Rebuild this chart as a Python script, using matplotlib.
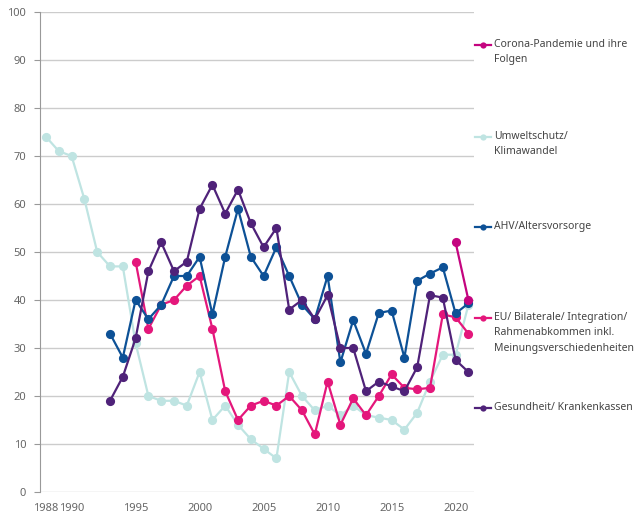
import numpy as np
import matplotlib.pyplot as plt
from matplotlib.lines import Line2D

plt.rcParams['font.family'] = ['Noto Sans', 'DejaVu Sans']

years_umwelt = list(range(1988, 2022))
umwelt = [74, 71, 70, 61, 50, 47, 47, 31, 20, 19, 19, 18, 25, 15, 18, 14, 11, 9, 7,
          25, 20, 17, 18, 16, 18, 16, 15.5, 15, 13, 16.5, 23, 28.6, 28.6, 39]

years_ahv = list(range(1993, 2022))
ahv = [33, 28, 40, 36, 39, 45, 45, 49, 37, 49, 59, 49, 45, 51, 45, 39, 36, 45, 27,
       35.8, 28.8, 37.3, 37.8, 28, 44, 45.5, 46.8, 37.2, 39.3]

years_ges = list(range(1993, 2022))
gesundheit = [19, 24, 32, 46, 52, 46, 48, 59, 64, 58, 63, 56, 51, 55, 38, 40, 36, 41,
              30, 30, 21, 23, 22, 21, 26, 41, 40.5, 27.5, 25]

years_eu = list(range(1995, 2022))
eu = [48, 34, 39, 40, 43, 45, 34, 21, 15, 18, 19, 18, 20, 17, 12, 23, 14, 19.5, 16,
      20, 24.5, 21.7, 21.4, 21.7, 37, 36.4, 33]

years_corona = [2020, 2021]
corona = [52, 40]

c_corona = '#c4047f'
c_umwelt = '#bfe4e2'
c_ahv = '#0d5196'
c_eu = '#e4177b'
c_ges = '#4f2279'

fig = plt.figure(figsize=(6.4, 5.17), dpi=100)
ax = fig.add_axes([40 / 640, 25 / 517, 434 / 640, 480 / 517])

style = dict(linewidth=1.6, marker='o', markersize=6.6, markeredgewidth=0)
ax.plot(years_umwelt, umwelt, color=c_umwelt, zorder=2, **style)
ax.plot(years_eu, eu, color=c_eu, zorder=3, **style)
ax.plot(years_ahv, ahv, color=c_ahv, zorder=4, **style)
ax.plot(years_ges, gesundheit, color=c_ges, zorder=5, **style)
ax.plot(years_corona, corona, color=c_corona, zorder=6, **style)

ax.set_xlim(1988 - 6 / 12.8, 1988 + 428 / 12.8)
ax.set_ylim(0, 100)
ax.set_yticks(range(0, 101, 10))
ax.set_xticks([1988, 1990, 1995, 2000, 2005, 2010, 2015, 2020])
ax.grid(axis='y', color='#cccccc', linewidth=1)
ax.set_axisbelow(True)
for s in ['top', 'right', 'bottom']:
    ax.spines[s].set_visible(False)
ax.spines['left'].set_color('#999999')
ax.tick_params(axis='y', length=4, color='#999999', labelsize=8, labelcolor='#666666', pad=6)
ax.tick_params(axis='x', length=0, labelsize=8, labelcolor='#666666', pad=8)

# legend at the right side
entries = [
    (c_corona, 'Corona-Pandemie und ihre\nFolgen', 45),
    (c_umwelt, 'Umweltschutz/\nKlimawandel', 137),
    (c_ahv, 'AHV/Altersvorsorge', 227),
    (c_eu, 'EU/ Bilaterale/ Integration/\nRahmenabkommen inkl.\nMeinungsverschiedenheiten', 318),
    (c_ges, 'Gesundheit/ Krankenkassen', 408),
]
for col, label, ypix in entries:
    yf = 1 - ypix / 517
    fig.add_artist(Line2D([475 / 640, 491 / 640], [yf, yf], color=col, linewidth=1.6,
                          transform=fig.transFigure))
    fig.add_artist(Line2D([483 / 640], [yf], color=col, marker='o', markersize=4.5,
                          markeredgewidth=0, transform=fig.transFigure))
    fig.text(494 / 640, yf + 6 / 517, label, fontsize=7.5, color='#444444',
             va='top', ha='left', linespacing=1.55)

fig.savefig('out.png', dpi=100)
